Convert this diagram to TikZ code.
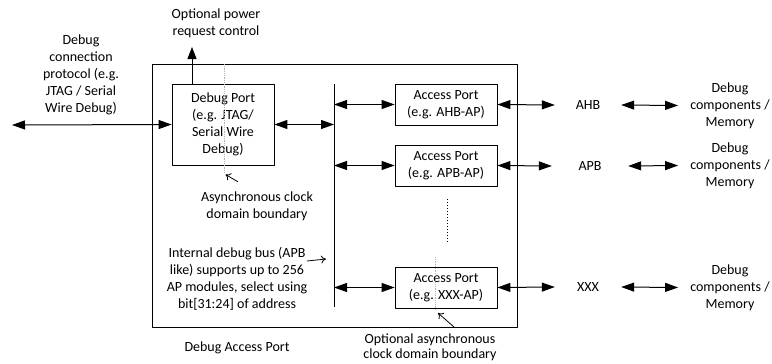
\documentclass[tikz,border=0pt]{standalone}
\usepackage{fontspec}
\setmainfont{Carlito}
\usetikzlibrary{arrows.meta,positioning}
\tikzset{
    portbox/.style={draw, line width=0.8pt, align=center, inner sep=0pt},
    txt/.style={align=center, inner sep=0pt},
    buslabel/.style={inner sep=0pt, minimum width=66pt},
    memtxt/.style={align=center, inner xsep=12pt, inner ysep=0pt},
    dbl/.style={line width=1pt, {Triangle[length=13pt,width=9pt]}-{Triangle[length=13pt,width=9pt]}},
    sgl/.style={line width=1pt, -{Triangle[length=12pt,width=9pt]}},
    pointer/.style={line width=0.8pt, -{To[length=5pt,width=8pt]}},
    boundary/.style={line width=0.8pt, black!30, densely dotted},
}
\begin{document}
\begin{tikzpicture}[x=1pt,y=-1pt,line join=round,font=\fontsize{14}{17}\selectfont]
    \useasboundingbox (0,0) rectangle (772,364);

    % outer box
    \node[draw, line width=0.8pt, minimum width=365pt, minimum height=263pt, inner sep=0pt] (dap) at (334.5,195.5) {};
    \node[txt] (daplabel) at (237,348) {Debug Access Port};

    % debug port
    \node[portbox, minimum width=102pt, minimum height=81pt] (dp) at (223,124.5)
        {Debug Port\\(e.g. JTAG/\\Serial Wire\\Debug)};
    \node[txt] (proto) at (81,75) {Debug\\connection\\protocol (e.g.\\JTAG / Serial\\Wire Debug)};
    \coordinate (ext) at (12,125);
    \draw[dbl] (ext) -- (dp.west);

    \node[txt] (pwr) at (216,23.5) {Optional power\\request control};
    \coordinate (pwrfoot) at (192,84);
    \draw[sgl] (pwrfoot) -- (pwrfoot |- 0,47);

    % internal bus
    \coordinate (bustop) at (334,84);
    \coordinate (busbot) at (334,307);
    \draw[line width=1pt] (bustop) -- (busbot);
    \draw[dbl] (dp.east) -- (dp.east -| bustop);

    % access ports
    \node[portbox, minimum width=102pt, minimum height=41pt] (ap1) at (446,104.5) {Access Port\\(e.g. AHB-AP)};
    \node[portbox, minimum width=102pt, minimum height=41pt] (ap2) at (446,165.5) {Access Port\\(e.g. APB-AP)};
    \node[portbox, minimum width=102pt, minimum height=41pt] (ap3) at (446,287.5) {Access Port\\(e.g. XXX-AP)};

    \node[buslabel] (ahb) at (588,105) {AHB};
    \node[buslabel, minimum width=76pt] (apb) at (590,166) {APB};
    \node[buslabel] (xxx) at (588,287) {XXX};

    \node[memtxt] (mem1) at (730,105.5) {Debug\\components /\\Memory};
    \node[memtxt] (mem2) at (730,165.5) {Debug\\components /\\Memory};
    \node[memtxt] (mem3) at (730,287.5) {Debug\\components /\\Memory};

    \foreach \ap/\bus/\mem in {ap1/ahb/mem1, ap2/apb/mem2, ap3/xxx/mem3} {
        \draw[dbl] (\ap.west -| bustop) -- (\ap.west);
        \draw[dbl] (\ap.east) -- (\bus.west);
        \draw[dbl] (\bus.east) -- (\mem.west);
    }

    \coordinate (dottop) at (447,199);
    \coordinate (dotbot) at (447,243);
    \draw[line width=1pt, dotted] (dottop) -- (dotbot);

    % clock domain boundaries
    \draw[boundary] (224,64) -- (224,173);
    \node[txt] (async) at (257,206.5) {Asynchronous clock\\domain boundary};
    \coordinate (asyncpt) at (225.5,174.5);
    \draw[pointer] (async.north -| 238,0) ++(0,-10) coordinate (asyncfoot) -- (asyncpt);

    \draw[boundary] (435,257) -- (435,310);
    \node[txt, font=\fontsize{14}{15}\selectfont] (optasync) at (430,347) {Optional asynchronous\\clock domain boundary};
    \coordinate (optpt) at (438,313);
    \coordinate (optfoot) at (454,327);
    \draw[pointer] (optfoot) -- (optpt);

    % bus note
    \node[txt] (busnote) at (237,278.5) {Internal debug bus (APB\\like) supports up to 256\\AP modules, select using\\bit[31:24] of address};
    \coordinate (busnotept) at (326,259);
    \draw[pointer] (307,261) -- (busnotept);
\end{tikzpicture}
\end{document}
